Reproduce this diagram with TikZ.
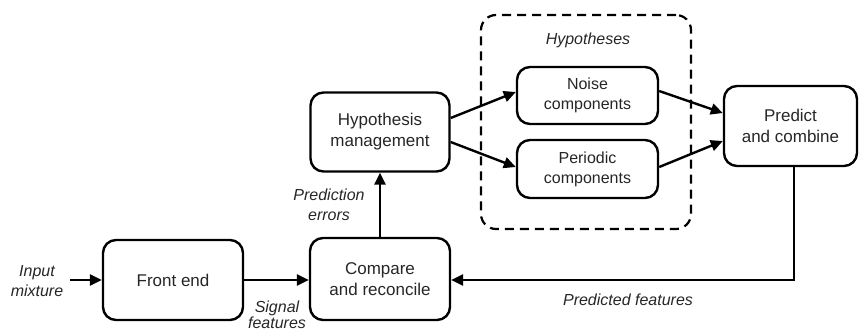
\documentclass[tikz,border=0pt]{standalone}
\usepackage{fontspec}
\setmainfont{Liberation Sans}
\usetikzlibrary{arrows.meta}
\begin{document}
\begin{tikzpicture}[x=1pt,y=-1pt,
  box/.style={draw, line width=2.4pt, rounded corners=13pt, align=center, inner sep=0pt,
    font=\fontsize{17}{21}\selectfont, text=black!85},
  lab/.style={align=center, inner sep=0pt, font=\fontsize{16}{20}\selectfont\itshape, text=black!85},
  arr/.style={line width=2.4pt, -{Triangle[length=12pt,width=11pt]}},
  ln/.style={line width=2.4pt}]
\useasboundingbox (0,0) rectangle (860,333);
\node[draw, dashed, dash pattern=on 9pt off 6pt, line width=2.2pt, rounded corners=15pt,
  minimum width=210pt, minimum height=214pt] (hypgroup) at (586,122) {};
\node[box, minimum width=140pt, minimum height=80pt] (front) at (173,280) {Front end};
\node[box, minimum width=140pt, minimum height=82pt] (compare) at (380,279) {Compare\\and reconcile};
\node[box, minimum width=139pt, minimum height=79pt] (hyp) at (380,132) {Hypothesis\\management};
\node[box, minimum width=141pt, minimum height=57pt, font=\fontsize{16}{20}\selectfont] (noise) at (587.5,95.5) {Noise\\components};
\node[box, minimum width=141pt, minimum height=58pt, font=\fontsize{16}{20}\selectfont] (periodic) at (587.5,169) {Periodic\\components};
\node[box, minimum width=133pt, minimum height=80pt] (predict) at (790.5,126) {Predict\\and combine};
\node[lab] (hyplab) at (588,40) {Hypotheses};
\node[lab] (inlab) at (37,281) {Input\\mixture};
\node[lab, font=\fontsize{16}{16}\selectfont\itshape] (siglab) at (277,315) {Signal\\features};
\node[lab] (errlab) at (329,205) {Prediction\\errors};
\node[lab] (predlab) at (628,300) {Predicted features};
\coordinate (inp) at (70,280);
\draw[arr] (inp) -- (front.west |- inp);
\draw[arr] (front.east |- inp) -- (compare.west |- inp);
\draw[arr] (compare.north) -- (hyp.south);
\draw[arr] ([yshift=14pt]hyp.east) -- ([yshift=3.5pt]noise.west);
\draw[arr] ([yshift=-10pt]hyp.east) -- ([yshift=2pt]periodic.west);
\draw[arr] ([yshift=4.5pt]noise.east) -- ([yshift=13pt]predict.west);
\draw[arr] ([yshift=2pt]periodic.east) -- ([yshift=-15pt]predict.west);
\draw[ln, -{Triangle[length=12pt,width=11pt]}] ([xshift=3.5pt]predict.south) |- ([yshift=-1pt]compare.east);
\end{tikzpicture}
\end{document}
